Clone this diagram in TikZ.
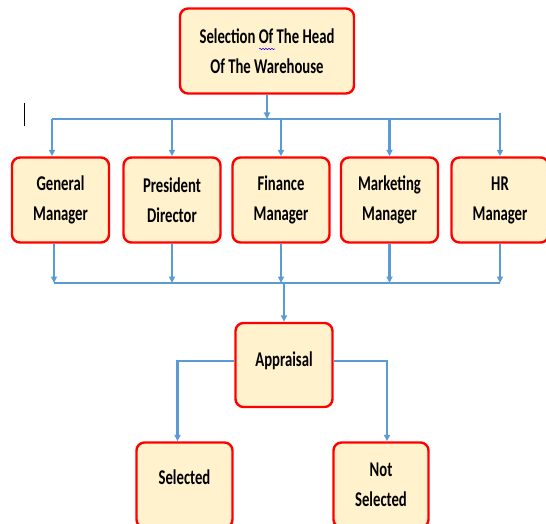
\documentclass[tikz,border=0pt]{standalone}
\usepackage{fontspec}
\setmainfont{Carlito}[FakeStretch=0.7]
\usetikzlibrary{arrows.meta,decorations.pathmorphing}

\definecolor{boxfill}{HTML}{FFF2CC}
\definecolor{boxline}{HTML}{FF0000}
\definecolor{linkblue}{HTML}{5B9BD5}

\tikzset{
  box/.style={draw=boxline, line width=2.4pt, fill=boxfill, rounded corners=8pt,
    minimum width=97pt, minimum height=85pt, inner sep=0pt, align=center,
    font=\fontsize{21}{30}\selectfont\bfseries},
  link/.style={draw=linkblue, line width=2.2pt},
  arr/.style={link, -{Triangle[length=6.5pt,width=6pt]}}
}

\begin{document}
\begin{tikzpicture}[x=1pt,y=-1pt]
\useasboundingbox (0,0) rectangle (546,524);
% boxes
\node[box, minimum width=174pt] (head) at (267,51) {Selection Of The Head\\Of The Warehouse};
\foreach \n/\x/\t in {general/60.5/{General\\Manager},president/172/{President\\Director},
  finance/281/{Finance\\Manager},marketing/389.5/{Marketing\\Manager},hr/500/{HR\\Manager}}
  \node[box] (\n) at (\x,200) {\t};
\node[box, minimum height=84pt] (appraisal) at (284,365) {Appraisal\\[-18pt]};
\node[box, minimum width=96pt] (selected) at (184.5,485) {Selected\\[-14pt]};
\node[box, minimum width=95pt] (notsel) at (381,485) {Not\\Selected};

% upper bus
\coordinate (tl) at (52,119);
\coordinate (tr) at (500,119);
\draw[arr] (head.south) -- (head.south |- tl);
\draw[link] (tl) -- (tr);
\draw[arr] (tl) -- (tl |- general.north);
\foreach \n in {president,finance,marketing}
  \draw[arr] (\n.north |- tl) -- (\n.north);
\draw[arr] ([yshift=6pt]hr.north |- tr) -- (hr.north);

% lower bus
\coordinate (bl) at (54,283);
\coordinate (br) at (500,283);
\draw[link] (bl) -- (br);
\draw[arr] (bl |- general.south) -- (bl);
\foreach \n in {president,finance,marketing,hr}
  \draw[arr] (\n.south) -- (\n.south |- bl);
\draw[arr] (appraisal.north |- bl) -- (appraisal.north);

% result
\draw[arr] ([yshift=4pt]appraisal.west) -| ([xshift=-7pt]selected.north);
\draw[arr] ([yshift=4pt]appraisal.east) -| ([xshift=6pt]notsel.north);

% cursor and spell mark
\draw[line width=1pt] (24,103) -- (24,126);
\draw[blue!70!violet, line width=0.5pt, decorate,
  decoration={snake,amplitude=0.7pt,segment length=3pt}] (259,49) -- (275,49);
\end{tikzpicture}
\end{document}
